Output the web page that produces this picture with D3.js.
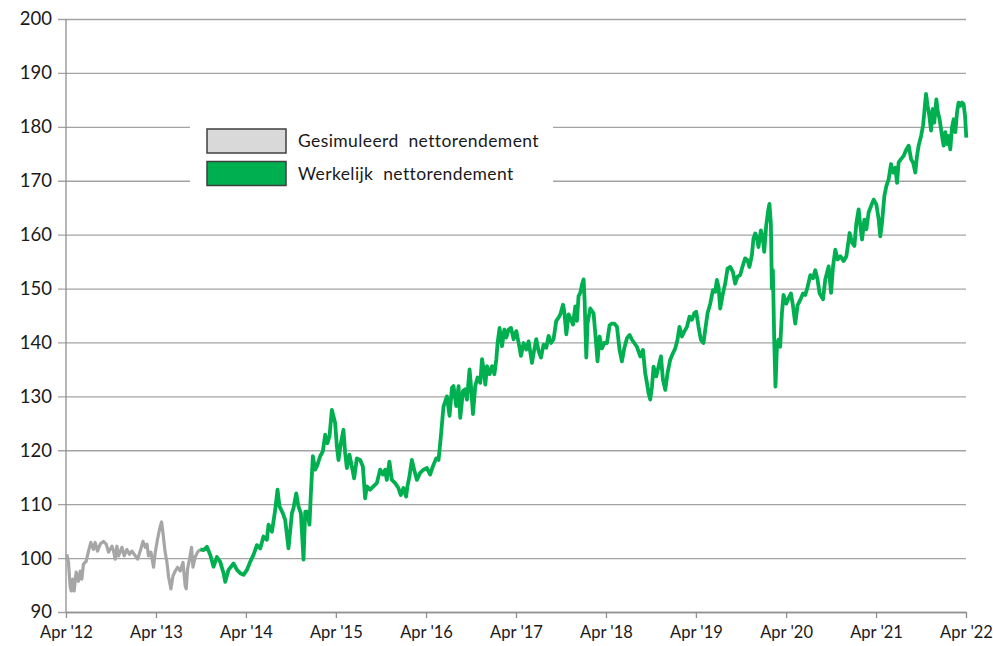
<!DOCTYPE html>
<html>
<head>
<meta charset="utf-8">
<script src="https://cdn.jsdelivr.net/npm/d3@7"></script>
<style>
  html, body { margin: 0; padding: 0; background: #fff; }
  svg { display: block; }
  text { font-family: Lato, "Open Sans", sans-serif; fill: #1a1a1a; }
</style>
</head>
<body>
<svg id="chart" width="993" height="646"></svg>
<script>
// ---- data (decimal years, index values) ----
const simYears = [2012.258,2012.276,2012.294,2012.306,2012.324,2012.339,2012.361,2012.387,2012.406,2012.424,2012.442,2012.472,2012.498,2012.524,2012.553,2012.572,2012.598,2012.628,2012.664,2012.694,2012.720,2012.758,2012.776,2012.794,2012.813,2012.831,2012.869,2012.894,2012.924,2012.953,2012.980,2013.017,2013.042,2013.072,2013.102,2013.128,2013.147,2013.164,2013.191,2013.220,2013.239,2013.264,2013.287,2013.309,2013.324,2013.347,2013.369,2013.387,2013.413,2013.436,2013.461,2013.487,2013.517,2013.547,2013.572,2013.583,2013.598,2013.620,2013.642,2013.658,2013.683,2013.709,2013.739];
const simValues = [100.7,99.2,94.8,93.9,96.1,93.9,97.4,95.7,97.6,96.1,98.9,99.4,101.3,102.9,101.6,102.9,101.3,102.6,103.1,102.6,101.1,102.2,101.3,99.8,102.2,100.4,102.0,100.4,101.6,100.7,101.3,100.4,99.8,101.3,103.1,102.0,102.6,100.4,101.1,98.3,101.1,103.5,105.4,106.7,104.8,101.3,99.2,96.5,94.3,96.7,97.6,98.3,97.6,99.2,94.8,94.3,98.0,99.8,102.0,98.3,100.2,101.1,101.6];

const actYears = [2013.739,2013.776,2013.813,2013.850,2013.887,2013.924,2013.961,2013.998,2014.017,2014.053,2014.109,2014.147,2014.183,2014.220,2014.258,2014.294,2014.331,2014.369,2014.406,2014.442,2014.480,2014.498,2014.536,2014.572,2014.598,2014.620,2014.658,2014.683,2014.720,2014.758,2014.776,2014.806,2014.831,2014.858,2014.887,2014.906,2014.931,2014.953,2014.969,2014.991,2015.017,2015.042,2015.072,2015.102,2015.128,2015.153,2015.176,2015.202,2015.220,2015.239,2015.258,2015.276,2015.302,2015.331,2015.350,2015.369,2015.398,2015.424,2015.450,2015.480,2015.517,2015.547,2015.572,2015.591,2015.628,2015.664,2015.702,2015.739,2015.769,2015.794,2015.813,2015.842,2015.869,2015.906,2015.942,2015.969,2015.998,2016.028,2016.042,2016.064,2016.091,2016.117,2016.147,2016.183,2016.220,2016.258,2016.294,2016.324,2016.361,2016.387,2016.413,2016.442,2016.480,2016.509,2016.536,2016.553,2016.583,2016.609,2016.628,2016.658,2016.683,2016.702,2016.731,2016.747,2016.769,2016.794,2016.820,2016.850,2016.869,2016.887,2016.906,2016.924,2016.953,2016.980,2017.006,2017.028,2017.042,2017.064,2017.091,2017.117,2017.139,2017.164,2017.191,2017.220,2017.250,2017.276,2017.302,2017.331,2017.361,2017.387,2017.424,2017.450,2017.472,2017.498,2017.524,2017.553,2017.583,2017.609,2017.636,2017.664,2017.694,2017.720,2017.739,2017.769,2017.783,2017.806,2017.831,2017.858,2017.880,2017.906,2017.924,2017.942,2017.961,2017.980,2017.998,2018.009,2018.028,2018.042,2018.072,2018.109,2018.128,2018.153,2018.176,2018.202,2018.228,2018.258,2018.287,2018.313,2018.339,2018.369,2018.398,2018.424,2018.450,2018.480,2018.509,2018.536,2018.561,2018.591,2018.628,2018.658,2018.683,2018.702,2018.720,2018.739,2018.758,2018.776,2018.806,2018.831,2018.858,2018.880,2018.906,2018.931,2018.961,2018.991,2019.017,2019.042,2019.064,2019.091,2019.117,2019.147,2019.176,2019.202,2019.228,2019.250,2019.276,2019.302,2019.331,2019.350,2019.376,2019.406,2019.436,2019.461,2019.480,2019.498,2019.517,2019.547,2019.572,2019.598,2019.628,2019.658,2019.683,2019.709,2019.739,2019.769,2019.794,2019.820,2019.842,2019.869,2019.887,2019.906,2019.924,2019.942,2019.969,2019.991,2020.006,2020.028,2020.053,2020.064,2020.080,2020.091,2020.102,2020.117,2020.131,2020.147,2020.164,2020.183,2020.202,2020.220,2020.250,2020.276,2020.302,2020.324,2020.350,2020.376,2020.406,2020.436,2020.461,2020.487,2020.517,2020.547,2020.572,2020.598,2020.620,2020.658,2020.683,2020.720,2020.747,2020.769,2020.794,2020.820,2020.850,2020.887,2020.917,2020.953,2020.980,2021.006,2021.028,2021.053,2021.072,2021.091,2021.117,2021.139,2021.164,2021.191,2021.220,2021.250,2021.276,2021.294,2021.313,2021.339,2021.361,2021.387,2021.413,2021.436,2021.461,2021.480,2021.498,2021.524,2021.553,2021.583,2021.609,2021.636,2021.658,2021.683,2021.702,2021.720,2021.747,2021.769,2021.783,2021.802,2021.820,2021.839,2021.858,2021.876,2021.894,2021.917,2021.931,2021.953,2021.980,2021.998,2022.017,2022.036,2022.053,2022.072,2022.091,2022.109,2022.128,2022.147,2022.164,2022.183,2022.202,2022.220,2022.236,2022.250];
const actValues = [101.6,101.5,102.1,100.6,98.4,100.2,99.3,97.2,95.6,97.8,99.0,97.8,97.2,96.9,97.8,99.3,100.6,102.4,101.8,104.0,103.4,106.2,104.9,108.9,112.7,109.6,108.3,107.1,101.8,108.3,109.3,112.0,109.6,108.3,99.7,108.6,108.6,106.2,112.0,118.9,116.4,117.3,118.9,119.8,122.9,121.3,122.6,127.5,126.3,125.0,120.7,118.2,121.3,123.8,119.5,116.7,119.2,117.0,114.8,118.5,118.2,117.0,111.1,113.3,112.7,113.3,113.9,116.4,115.5,116.4,114.5,117.9,114.5,113.9,113.0,111.7,113.0,111.4,113.3,115.1,118.2,116.4,114.5,115.8,116.4,116.7,115.5,117.0,118.5,118.2,122.6,128.1,130.0,126.4,131.6,131.9,128.2,131.9,126.0,131.0,131.3,129.4,135.0,131.9,126.7,131.9,133.5,132.5,136.9,135.0,132.2,135.6,134.1,135.6,134.1,136.9,139.9,142.7,139.3,142.4,140.9,142.4,142.7,140.6,142.1,139.9,137.5,139.9,138.7,140.2,136.2,138.7,140.6,138.4,137.2,139.6,139.0,141.2,139.9,140.6,144.0,144.6,145.2,147.0,145.8,141.5,145.2,144.3,143.3,146.7,144.0,148.6,149.2,150.7,151.7,148.0,137.2,143.6,146.3,145.4,141.7,136.5,141.1,138.9,139.9,139.9,143.2,143.5,143.5,142.9,138.6,136.5,138.9,140.8,141.4,140.5,139.9,139.2,137.4,138.6,134.3,132.5,130.6,129.4,131.8,135.5,133.7,135.5,137.4,133.1,131.2,134.3,136.8,138.0,138.9,140.5,142.9,141.1,142.0,142.9,144.8,144.2,145.4,145.7,142.9,140.5,139.9,142.3,145.4,147.2,149.7,149.4,151.6,150.3,146.3,149.1,150.9,153.7,154.0,153.1,150.9,152.2,152.5,154.3,155.6,155.3,154.0,156.2,159.3,160.2,159.6,157.7,160.8,159.3,156.8,161.7,164.8,165.7,162.0,150.0,153.4,140.5,131.8,139.2,140.5,139.2,145.4,148.8,147.2,148.2,149.1,146.9,143.5,146.9,147.9,149.1,148.8,150.3,152.5,151.9,153.4,151.6,149.1,148.0,151.7,154.1,149.2,154.1,157.2,155.4,156.0,155.1,156.0,160.3,158.5,157.9,162.2,164.7,161.6,159.1,162.8,161.0,164.1,165.3,166.5,165.6,162.8,159.7,162.2,167.2,169.0,170.3,173.1,171.5,172.4,169.6,173.4,174.0,174.6,175.8,176.5,174.0,173.4,171.5,174.6,176.5,178.3,180.2,182.7,186.1,183.9,182.0,179.3,183.3,180.8,185.1,183.0,181.4,178.3,176.5,179.0,176.8,178.3,175.8,179.9,181.4,179.0,182.7,184.5,183.9,184.5,184.2,182.0,178.0];

const tickYears = [2012,2013,2014,2015,2016,2017,2018,2019,2020,2021,2022];
const tickLabels = ["Apr '12","Apr '13","Apr '14","Apr '15","Apr '16","Apr '17","Apr '18","Apr '19","Apr '20","Apr '21","Apr '22"];
const yTicks = [90,100,110,120,130,140,150,160,170,180,190,200];
const legendLabels = ["Gesimuleerd  nettorendement", "Werkelijk  nettorendement"];

(function () {
  function toDate(d) {
    const yr = Math.floor(d);
    const s = new Date(yr, 0, 1), e = new Date(yr + 1, 0, 1);
    return new Date(+s + (d - yr) * (e - s));
  }
  const sim = simYears.map((d, i) => ({ date: toDate(d), value: simValues[i] }));
  const act = actYears.map((d, i) => ({ date: toDate(d), value: actValues[i] }));

  const svg = d3.select("#chart");
  const mLeft = 66, mRight = 966, mTop = 19, mBottom = 612;

  const x = d3.scaleTime()
    .domain([new Date(2012, 3, 1), new Date(2022, 3, 1)])
    .range([mLeft, mRight]);
  const y = d3.scaleLinear().domain([90, 200]).range([mBottom, mTop]);

  // gridlines + y axis labels
  const yAxis = d3.axisLeft(y).tickValues(yTicks).tickSize(-(mRight - mLeft)).tickSizeOuter(0).tickPadding(14);
  const gy = svg.append("g").attr("transform", `translate(${mLeft},0)`).call(yAxis);
  gy.select(".domain").remove();
  gy.selectAll(".tick line").attr("stroke", "#a3a3a3").attr("stroke-width", 1.3).attr("x1", -8);
  gy.selectAll(".tick text").attr("font-size", 18.5).attr("font-family", "Lato, sans-serif").attr("fill", "#1a1a1a");

  // y axis line
  svg.append("line").attr("x1", mLeft).attr("x2", mLeft).attr("y1", y(200)).attr("y2", y(90))
    .attr("stroke", "#8f8f8f").attr("stroke-width", 1.3);

  // x axis
  const xAxis = d3.axisBottom(x)
    .tickValues(tickYears.map(yr => new Date(yr, 3, 1)))
    .tickFormat((d, i) => tickLabels[i])
    .tickSize(6).tickSizeOuter(0).tickPadding(8);
  const gx = svg.append("g").attr("transform", `translate(0,${mBottom})`).call(xAxis);
  gx.select(".domain").attr("stroke", "#8f8f8f").attr("stroke-width", 1.3);
  gx.selectAll(".tick line").attr("stroke", "#8f8f8f").attr("stroke-width", 1.3);
  gx.selectAll(".tick text").attr("font-size", 16.5).attr("font-family", "Lato, sans-serif").attr("fill", "#1a1a1a");

  // lines
  const line = d3.line().x(d => x(d.date)).y(d => y(d.value)).curve(d3.curveLinear);
  svg.append("path").datum(sim).attr("d", line)
    .attr("fill", "none").attr("stroke", "#a6a6a6").attr("stroke-width", 3.2).attr("stroke-linejoin", "round");
  svg.append("path").datum(act).attr("d", line)
    .attr("fill", "none").attr("stroke", "#00b050").attr("stroke-width", 3.8).attr("stroke-linejoin", "round");

  // legend
  const lg = svg.append("g");
  lg.append("rect").attr("x", 190).attr("y", 116).attr("width", 363).attr("height", 78).attr("fill", "#fff");
  const swatchFills = ["#d9d9d9", "#00b050"];
  swatchFills.forEach((f, i) => {
    const yy = 129 + i * 32.5;
    lg.append("rect").attr("x", 207).attr("y", yy).attr("width", 79).attr("height", 24)
      .attr("fill", f).attr("stroke", "#3f3f3f").attr("stroke-width", 1.5);
    lg.append("text").attr("x", 298).attr("y", yy + 12).attr("dy", "0.35em")
      .attr("font-size", 17.5).attr("letter-spacing", 0.4).attr("fill", "#262626").style("white-space", "pre")
      .text(legendLabels[i]);
  });
})();
</script>
</body>
</html>
